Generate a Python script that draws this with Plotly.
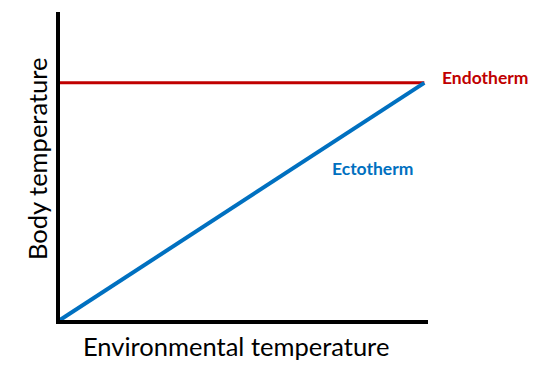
import plotly.graph_objects as go

env_temp = [0, 99]
ectotherm = [0, 77]
endotherm = [77, 77]

L, R, T, B = 60, 119, 12, 57
W, H = 547, 377
PW, PH = W - L - R, H - T - B

def px(x):
    return (x - L) / PW

def py(y):
    return (H - B - y) / PH

fig = go.Figure()
fig.add_trace(go.Scatter(x=env_temp, y=endotherm, mode="lines",
                         line=dict(color="#C00000", width=3), showlegend=False))
fig.add_trace(go.Scatter(x=env_temp, y=ectotherm, mode="lines",
                         line=dict(color="#0070C0", width=4), showlegend=False))

fig.add_annotation(x=px(440), y=py(77), xref="paper", yref="paper", text="<b>Endotherm</b>",
                   showarrow=False, xanchor="left", yanchor="middle",
                   font=dict(family="Lato", size=17.5, color="#C00000"))
fig.add_annotation(x=px(330), y=py(168), xref="paper", yref="paper", text="<b>Ectotherm</b>",
                   showarrow=False, xanchor="left", yanchor="middle",
                   font=dict(family="Lato", size=17.5, color="#0070C0"))
fig.add_annotation(x=px(236), y=py(346), xref="paper", yref="paper",
                   text="Environmental temperature",
                   showarrow=False, xanchor="center", yanchor="middle",
                   font=dict(family="Lato", size=25.5, color="black"))
fig.add_annotation(x=px(37), y=py(159), xref="paper", yref="paper",
                   text="Body temperature", textangle=-90,
                   showarrow=False, xanchor="center", yanchor="middle",
                   font=dict(family="Lato", size=25.5, color="black"))

fig.update_layout(
    width=W, height=H,
    margin=dict(l=L, r=R, t=T, b=B),
    plot_bgcolor="white", paper_bgcolor="white",
)
fig.update_xaxes(range=[0, 100], showline=True, linewidth=4, linecolor="black",
                 showgrid=False, zeroline=False, showticklabels=False, ticks="")
fig.update_yaxes(range=[0, 100], showline=True, linewidth=4, linecolor="black",
                 showgrid=False, zeroline=False, showticklabels=False, ticks="")
fig.write_html("out.html")
